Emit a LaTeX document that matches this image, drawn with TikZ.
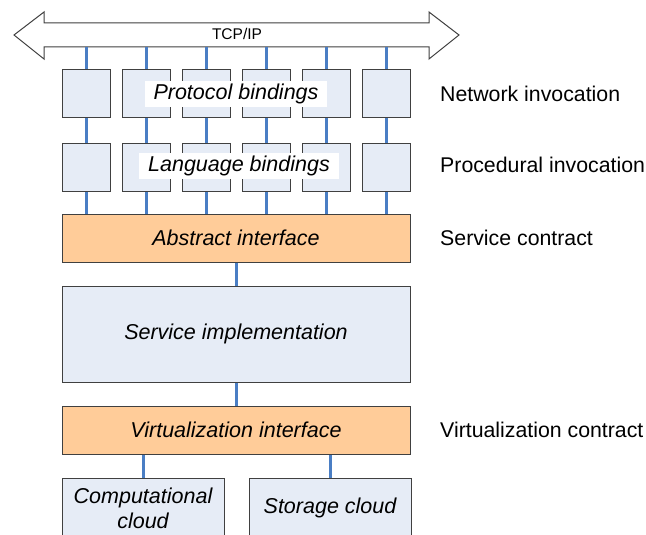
\documentclass[tikz,border=0pt]{standalone}
\usepackage{fontspec}
\setmainfont{Liberation Sans}
\definecolor{boxblue}{HTML}{E6ECF6}
\definecolor{contractorange}{HTML}{FFCC99}
\definecolor{linkblue}{HTML}{4A7EC4}
\definecolor{edgegrey}{HTML}{404040}
\tikzset{bindbox/.style={draw=edgegrey,fill=boxblue,line width=1pt,minimum width=48pt,minimum height=48pt,inner sep=0pt},
         layerbox/.style={draw=edgegrey,line width=1pt,minimum width=348pt,inner sep=0pt,font=\fontsize{21.5}{25}\selectfont\itshape},
         cloudbox/.style={draw=edgegrey,fill=boxblue,line width=1pt,minimum width=162pt,minimum height=60pt,inner sep=0pt,align=center,font=\fontsize{21.5}{25}\selectfont\itshape},
         bindlabel/.style={fill=white,inner xsep=9pt,minimum height=25pt,font=\fontsize{21.5}{25}\selectfont\itshape},
         sidelabel/.style={anchor=west,inner sep=0pt,font=\fontsize{21.3}{25}\selectfont},
         link/.style={linkblue,line width=3pt}}

\begin{document}
\begin{tikzpicture}[x=1pt,y=-1pt]
   \useasboundingbox (0,0) rectangle (646,535);
   % TCP/IP bus
   \draw[edgegrey,line width=1pt,fill=white]
     (14,35) -- (44,12) -- (44,23) -- (429,23) -- (429,12) -- (459,35)
     -- (429,59) -- (429,47) -- (44,47) -- (44,59) -- cycle;
   \node[font=\fontsize{15.5}{18}\selectfont] (tcp) at (237,34) {TCP/IP};
   \coordinate (b1) at (86,47);
   \coordinate (b2) at (146,47);
   \coordinate (b3) at (206,47);
   \coordinate (b4) at (266,47);
   \coordinate (b5) at (326,47);
   \coordinate (b6) at (386,47);
   % protocol bindings
   \node[bindbox] (p1) at (86,94) {};
   \node[bindbox] (p2) at (146,94) {};
   \node[bindbox] (p3) at (206,94) {};
   \node[bindbox] (p4) at (266,94) {};
   \node[bindbox] (p5) at (326,94) {};
   \node[bindbox] (p6) at (386,94) {};
   % language bindings
   \node[bindbox] (l1) at (86,167) {};
   \node[bindbox] (l2) at (146,167) {};
   \node[bindbox] (l3) at (206,167) {};
   \node[bindbox] (l4) at (266,167) {};
   \node[bindbox] (l5) at (326,167) {};
   \node[bindbox] (l6) at (386,167) {};
   % layers
   \node[layerbox,fill=contractorange,minimum height=48pt] (abs)  at (236,238) {Abstract interface};
   \node[layerbox,fill=boxblue,minimum height=96pt]        (impl) at (236,334) {Service implementation};
   \node[layerbox,fill=contractorange,minimum height=48pt] (virt) at (236,430) {Virtualization interface};
   \node[cloudbox] (comp)    at (143,508) {Computational\\cloud};
   \node[cloudbox] (storage) at (330,508) {Storage cloud};
   % links
   \draw[link] (b1) -- (p1); \draw[link] (p1) -- (l1); \draw[link] (l1.south) -- (l1.south |- abs.north);
   \draw[link] (b2) -- (p2); \draw[link] (p2) -- (l2); \draw[link] (l2.south) -- (l2.south |- abs.north);
   \draw[link] (b3) -- (p3); \draw[link] (p3) -- (l3); \draw[link] (l3.south) -- (l3.south |- abs.north);
   \draw[link] (b4) -- (p4); \draw[link] (p4) -- (l4); \draw[link] (l4.south) -- (l4.south |- abs.north);
   \draw[link] (b5) -- (p5); \draw[link] (p5) -- (l5); \draw[link] (l5.south) -- (l5.south |- abs.north);
   \draw[link] (b6) -- (p6); \draw[link] (p6) -- (l6); \draw[link] (l6.south) -- (l6.south |- abs.north);
   \draw[link] (abs) -- (impl);
   \draw[link] (impl) -- (virt);
   \draw[link] (comp.north) -- (comp.north |- virt.south);
   \draw[link] (storage.north) -- (storage.north |- virt.south);
   % labels
   \node[bindlabel] (protolabel) at (236,94)  {Protocol bindings};
   \node[bindlabel] (langlabel)  at (239,166) {Language bindings};
   \node[sidelabel] (network)    at (440,94)  {Network invocation};
   \node[sidelabel] (procedural) at (440,165) {Procedural invocation};
   \node[sidelabel] (contract)   at (440,238) {Service contract};
   \node[sidelabel] (virtcontr)  at (440,430) {Virtualization contract};
\end{tikzpicture}
\end{document}
